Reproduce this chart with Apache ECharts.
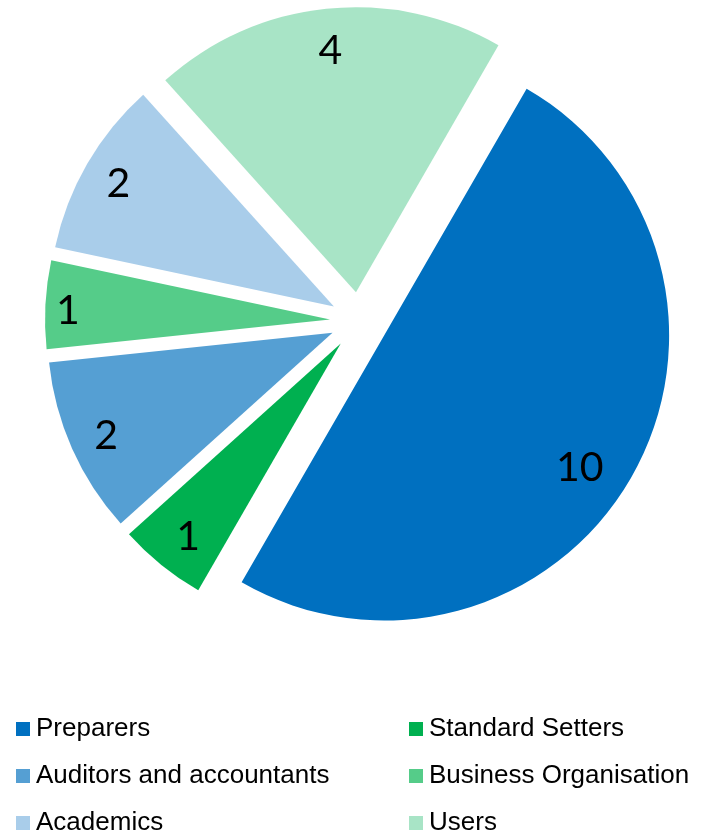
<!DOCTYPE html>
<html>
<head>
<meta charset="utf-8">
<style>
html,body{margin:0;padding:0;background:#fff;}
#chart{width:711px;height:836px;}
</style>
<script src="https://cdn.jsdelivr.net/npm/echarts@6/dist/echarts.min.js"></script>
</head>
<body>
<div id="chart"></div>
<script>
const categories = ['Preparers', 'Standard Setters', 'Auditors and accountants', 'Business Organisation', 'Academics', 'Users'];
const values = [10, 1, 2, 1, 2, 4];
const colors = ['#0070C0', '#00B050', '#559FD3', '#55CC89', '#A9CDEA', '#A8E4C6'];
const leftLegend = ['Preparers', 'Auditors and accountants', 'Academics'];
const rightLegend = ['Standard Setters', 'Business Organisation', 'Users'];
// small label nudges (style only)
const labelNudges = [[-17, 10], [2, 2], [-2, 3], [-17, 4], [-3, 0], [0, 3]];

const chart = echarts.init(document.getElementById('chart'), null, {renderer: 'canvas'});

const pieData = categories.map((name, i) => ({
  name: name, value: values[i], selected: true, itemStyle: {color: colors[i]}
}));
const labelData = categories.map((name, i) => ({
  name: name, value: values[i], selected: true
}));

const legendCommon = {
  orient: 'vertical',
  top: 711,
  height: 200,
  icon: 'rect',
  itemWidth: 14,
  itemHeight: 14,
  itemGap: 21,
  selectedMode: false,
  textStyle: {fontFamily: 'Liberation Sans, Arial, sans-serif', fontSize: 26, lineHeight: 26, color: '#000', padding: [0, 0, 0, 1]}
};

chart.setOption({
  animation: false,
  backgroundColor: '#fff',
  legend: [
    Object.assign({}, legendCommon, {left: 11, data: leftLegend}),
    Object.assign({}, legendCommon, {left: 404, data: rightLegend})
  ],
  series: [
    {
      name: 'main',
      type: 'pie',
      center: [359, 321],
      radius: [0, 285],
      startAngle: 60,
      clockwise: true,
      selectedMode: 'multiple',
      selectedOffset: 29,
      label: {show: false},
      labelLine: {show: false},
      emphasis: {disabled: true, scale: false},
      itemStyle: {borderWidth: 0},
      data: pieData
    },
    {
      name: 'labels',
      type: 'pie',
      center: [359, 321],
      radius: [200, 285],
      startAngle: 60,
      clockwise: true,
      selectedMode: 'multiple',
      selectedOffset: 29,
      silent: true,
      legendHoverLink: false,
      itemStyle: {color: 'rgba(0,0,0,0)', borderWidth: 0},
      label: {
        show: true,
        position: 'inside',
        formatter: '{c}',
        color: '#000',
        fontFamily: 'Lato, sans-serif',
        fontSize: 41
      },
      labelLayout: function (params) {
        const n = labelNudges[params.dataIndex] || [0, 0];
        return {dx: n[0], dy: n[1]};
      },
      labelLine: {show: false},
      emphasis: {disabled: true, scale: false},
      data: labelData
    }
  ]
});
</script>
</body>
</html>
